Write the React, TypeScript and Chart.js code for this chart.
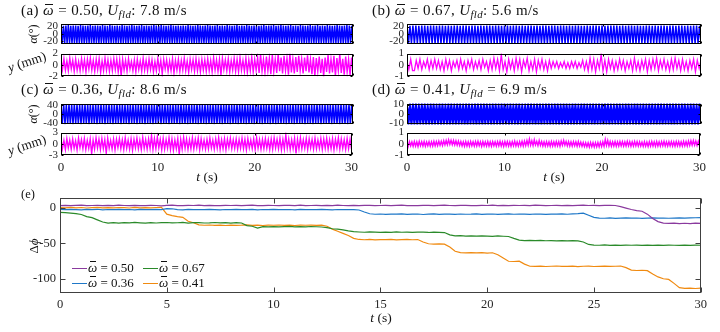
import React, { useEffect, useRef } from "react";
import { Chart, registerables } from "chart.js";
Chart.register(...registerables);

const FONT = "'Liberation Serif', 'DejaVu Serif', serif";

// ---------- shared axes ----------
const T_MIN = 0;
const T_MAX = 30;
const xTicksTop = [0, 10, 20, 30];
const xTicksE = [0, 5, 10, 15, 20, 25, 30];

// ---------- panel titles ----------
const panelLetters = ["a", "b", "c", "d"];
const panelOmega = ["0.50", "0.67", "0.36", "0.41"];
const panelU = ["7.8", "5.6", "8.6", "6.9"];
const panelSep = [":", ":", ":", " ="];

// ---------- (a) ----------
const alphaA = [
  23,-24,22,-25,23,-24,24,-24,22,-25,23,-24,23,-25,22,-24,24,-24,23,-25,
  22,-24,23,-24,24,-25,22,-24,23,-24,23,-25,22,-24,24,-24,23,-25,22,-24,
  24,-24,23,-25,22,-24,23,-24,22,-25,24,-24,23,-24,22,-25,23,-24,24,-24,
  23,-25,22,-24,23,-24,24,-25,22,-24,23,-24,22,-25,23,-24,24,-24,23,-25,
  22,-24,24,-24,23,-25,22,-24,23,-24,24,-25,23,-24,22,-24,23,-25,22,-24,
  23,-24,22,-25,24,-24,23,-24,22,-25,23,-24,24,-24,23,-25,22,-24,23,-24,
  24,-25,23,-24,22,-24,23,-25,24,-24,22,-24,23,-25,22,-24,24,-24,23,-25,
  22,-24,23,-24,24,-25,22,-24,23,-24,22,-25,24,-24,23,-24,22,-25,23,-24,
  23,-25,22,-24,23,-24,24,-24,22,-25,23,-24,23,-24,24,-25,22,-24,23,-24,
  24,-24,23,-25,22,-24,23,-24,24,-25,22,-24,23,-24,22,-25,24,-24,23,-24,
  22,-25,23,-24,24,-24,22,-24,23,-25,24,-24,22,-24,23,-25,22,-24,24,-24,
  23,-24,22,-25,23,-24,24,-24,23,-25,22,-24,23,-24,24,-25,23,-24,22,-24,
];
const yA = [
  0.9,-0.8,1.1,-0.9,0.7,-1.0,1.2,-0.7,0.8,-1.1,1.0,-0.9,0.6,-1.0,1.1,-0.8,0.9,-1.2,1.0,-0.7,
  1.2,-0.9,0.8,-1.1,1.0,-0.8,1.1,-1.3,0.7,-1.0,1.2,-0.9,0.9,-1.1,0.8,-1.0,1.1,-0.8,1.0,-1.2,
  0.9,-1.9,1.0,-0.9,0.8,-1.1,1.1,-0.7,0.6,-1.0,0.9,-1.2,1.0,-0.8,0.7,-1.1,1.2,-0.9,0.8,-1.0,
  1.0,-0.8,0.9,-1.2,0.6,-1.0,1.1,-0.9,0.8,-1.6,1.0,-0.7,0.9,-1.1,0.7,-1.0,1.1,-1.4,0.8,-0.9,
  1.0,-1.1,0.8,-0.9,1.2,-1.0,0.7,-1.3,1.0,-0.8,0.9,-1.1,1.1,-1.0,0.8,-1.2,1.0,-0.9,0.9,-1.1,
  1.1,-1.0,0.8,-1.2,1.3,-0.9,0.9,-1.1,1.0,-1.8,1.2,-0.8,0.9,-1.0,1.1,-1.2,0.8,-0.9,1.2,-1.1,
  1.0,-1.2,1.3,-0.9,0.8,-1.1,1.2,-1.3,0.9,-1.0,1.4,-1.2,1.0,-0.9,1.3,-1.4,1.9,-1.1,1.0,-1.3,
  1.5,-1.0,1.2,-1.6,1.8,-1.2,1.0,-1.4,1.9,-1.1,1.3,-1.5,1.6,-1.0,1.2,-1.7,2.0,-1.3,1.1,-1.5,
  1.4,-1.2,1.6,-1.0,1.1,-1.5,1.3,-1.1,1.7,-1.3,1.0,-1.6,1.4,-1.9,1.2,-1.1,1.5,-1.4,1.1,-2.0,
  1.3,-1.2,1.8,-1.5,1.0,-1.3,1.6,-1.9,1.2,-1.0,1.9,-1.4,1.1,-1.7,1.5,-1.2,1.0,-1.8,1.3,-1.1,
];

// ---------- (b) ----------
const alphaB = [
  23,-25,22,-25,23,-26,23,-25,22,-25,23,-25,23,-26,22,-25,23,-25,23,-25,
  22,-25,23,-26,23,-25,22,-25,23,-25,22,-26,23,-25,23,-25,22,-25,23,-26,
  23,-25,22,-25,23,-25,23,-26,22,-25,23,-25,22,-25,23,-26,23,-25,22,-25,
  23,-26,23,-25,22,-25,23,-25,23,-26,22,-25,23,-25,23,-25,22,-26,23,-25,
  22,-25,23,-25,23,-26,22,-25,23,-25,22,-25,23,-26,23,-25,22,-25,23,-25,
  23,-25,22,-26,23,-25,23,-25,22,-25,23,-26,22,-25,23,-25,23,-25,22,-26,
  22,-26,23,-25,22,-25,23,-25,23,-26,22,-25,23,-25,22,-25,23,-26,23,-25,
  23,-25,23,-25,22,-26,23,-25,22,-25,23,-25,23,-26,22,-25,23,-25,22,-25,
  22,-25,23,-26,23,-25,22,-25,23,-25,22,-26,23,-25,23,-25,22,-25,23,-26,
  23,-25,22,-25,23,-26,23,-25,22,-25,23,-25,22,-26,23,-25,23,-25,22,-25,
];
const yB = [
  0.3,-0.4,0.5,-0.5,-0.5,0.4,-0.3,0.5,-0.4,0.3,-0.2,0.5,-0.4,0.4,-0.3,0.5,-0.3,0.4,-0.4,0.3,
  -0.5,0.5,-0.3,0.4,-0.5,0.3,-0.2,0.4,-0.4,0.5,-0.3,0.3,-0.5,0.4,-0.2,0.5,-0.4,0.3,-0.3,0.4,
  -0.4,0.5,-0.2,0.3,-0.5,0.4,-0.4,0.6,-0.3,0.5,-0.5,0.9,-0.4,0.3,-0.6,0.5,-0.3,0.4,-0.5,0.6,
  -0.3,0.5,-0.6,0.4,-0.2,0.6,-0.5,0.3,-0.4,0.5,-0.6,0.4,-0.3,0.5,-0.4,0.3,-0.5,0.4,-0.3,0.3,
  -0.2,0.3,-0.3,0.2,-0.2,0.3,-0.3,0.2,-0.3,0.3,-0.2,0.3,-0.3,0.2,-0.2,0.4,-0.4,0.3,-0.5,0.6,
  -0.4,0.5,-0.6,0.4,-0.3,0.9,-0.5,0.4,-0.6,0.5,-0.3,0.4,-0.5,0.3,-0.4,0.5,-0.3,0.4,-0.5,0.3,
  -0.3,0.4,-0.5,0.6,-0.4,0.3,-0.5,0.4,-0.3,0.5,-0.6,0.4,-0.4,0.5,-0.3,0.6,-0.5,0.4,-0.3,0.5,
  -0.4,0.3,-0.5,0.5,-0.4,0.6,-0.3,0.4,-0.5,0.5,-0.4,0.3,-0.5,0.4,-0.3,0.5,-0.6,0.4,-0.3,0.4,
];

// ---------- (c) ----------
const alphaC = [
  43,-45,44,-46,42,-45,44,-45,43,-46,44,-45,42,-45,43,-46,44,-45,43,-45,
  44,-46,43,-45,42,-45,44,-46,43,-45,44,-45,42,-46,43,-45,44,-45,43,-46,
  42,-45,44,-45,43,-46,44,-45,42,-45,43,-46,44,-45,43,-45,42,-46,44,-45,
  43,-45,42,-46,44,-45,43,-45,44,-46,42,-45,43,-45,44,-46,43,-45,42,-45,
  44,-46,43,-45,42,-45,44,-45,43,-46,44,-45,42,-45,43,-46,44,-45,43,-45,
  43,-45,44,-46,43,-45,42,-45,44,-46,43,-45,44,-45,42,-46,43,-45,44,-45,
  42,-46,43,-45,44,-45,43,-46,42,-45,44,-45,43,-46,44,-45,42,-45,43,-46,
  44,-45,42,-45,43,-46,44,-45,43,-45,42,-46,44,-45,43,-45,44,-46,42,-45,
  43,-46,44,-45,42,-45,43,-45,44,-46,43,-45,42,-45,44,-46,43,-45,44,-45,
  42,-45,43,-46,44,-45,43,-45,42,-46,44,-45,43,-45,44,-46,42,-45,43,-45,
  44,-45,43,-46,42,-45,44,-45,43,-46,44,-45,42,-45,43,-46,44,-45,43,-45,
];
const yC = [
  1.2,-1.3,0.9,-1.5,1.4,-1.1,1.0,-1.4,1.3,-1.2,0.8,-1.6,1.5,-1.0,1.1,-1.3,1.4,-1.5,0.9,-1.2,
  1.3,-2.7,1.0,-1.4,1.6,-1.1,1.2,-1.5,1.4,-1.3,1.1,-2.5,1.5,-1.2,0.9,-1.4,1.3,-1.6,1.2,-1.0,
  1.4,-1.3,1.1,-1.5,1.6,-1.2,1.0,-1.4,1.3,-1.7,1.2,-1.1,1.5,-1.3,1.0,-1.5,1.7,-1.2,1.1,-1.4,
  1.3,-1.2,2.2,-1.5,1.4,-1.3,1.8,-1.1,1.2,-1.6,1.5,-1.4,1.1,-1.2,1.6,-1.5,1.3,-1.7,1.0,-1.3,
  1.4,-2.8,1.2,-1.4,1.7,-1.2,1.3,-1.5,1.1,-1.3,1.6,-1.4,1.2,-1.1,1.5,-1.6,1.3,-1.2,1.0,-1.4,
  1.2,-1.3,1.5,-1.1,1.0,-1.4,1.3,-1.2,1.6,-1.5,1.1,-1.3,1.4,-1.6,1.2,-1.0,1.5,-1.3,1.1,-1.2,
  1.3,-1.4,1.1,-1.2,1.5,-1.3,1.2,-1.6,1.4,-1.1,1.0,-1.3,1.3,-1.5,1.6,-1.2,1.1,-1.4,1.2,-1.3,
  1.4,-1.2,1.1,-1.5,1.3,-1.4,1.6,-1.1,1.2,-1.3,1.5,-1.6,1.2,-1.4,2.4,-1.2,1.3,-1.5,1.1,-1.3,
  1.5,-2.6,1.2,-1.4,1.6,-1.3,1.1,-1.2,1.4,-1.5,1.3,-1.1,1.2,-1.4,1.5,-1.3,1.0,-1.2,1.4,-1.5,
  1.3,-1.2,1.5,-1.4,1.1,-1.3,1.4,-1.6,1.2,-1.1,1.6,-1.4,1.3,-1.2,1.1,-1.5,1.4,-1.3,1.2,-1.4,
];

// ---------- (d) ----------
const alphaD = [
  7,-7,6,-8,7,-7,7,-8,6,-7,7,-7,7,-8,6,-7,7,-8,7,-7,
  6,-7,7,-8,7,-7,6,-7,7,-8,7,-7,6,-8,7,-7,7,-7,6,-8,
  7,-8,7,-7,6,-7,7,-8,7,-7,6,-8,7,-7,7,-7,6,-8,7,-7,
  7,-7,6,-8,7,-7,7,-7,6,-8,7,-7,6,-7,7,-8,7,-7,6,-7,
  6,-8,7,-7,7,-7,6,-8,7,-7,7,-8,6,-7,7,-7,7,-8,6,-7,
  7,-7,7,-8,6,-7,7,-7,7,-8,6,-7,7,-8,7,-7,6,-7,7,-8,
  7,-8,6,-7,7,-7,7,-8,6,-7,7,-7,6,-8,7,-7,7,-8,6,-7,
  6,-7,7,-7,7,-8,6,-7,7,-8,7,-7,6,-7,7,-8,7,-7,6,-8,
  7,-7,6,-8,7,-7,7,-7,6,-8,7,-7,7,-8,6,-7,7,-7,7,-8,
  7,-8,7,-7,6,-7,7,-8,7,-7,6,-7,7,-8,7,-7,6,-8,7,-7,
];
const yD = [
  0.18,-0.22,0.2,-0.18,0.16,-0.22,0.2,-0.2,0.18,-0.24,0.22,-0.18,0.18,-0.2,0.21,-0.22,0.16,-0.18,0.2,-0.21,0.18,-0.2,0.22,-0.18,
  0.2,-0.17,0.24,-0.14,0.23,-0.15,0.28,-0.1,0.3,-0.08,0.36,-0.05,0.32,-0.08,0.3,-0.1,0.27,-0.12,0.24,-0.15,0.2,-0.19,0.18,-0.22,
  0.2,-0.2,0.18,-0.22,0.21,-0.18,0.18,-0.21,0.2,-0.2,0.22,-0.18,0.18,-0.23,0.2,-0.19,0.18,-0.21,0.21,-0.2,0.18,-0.22,0.2,-0.18,
  0.18,-0.21,0.2,-0.18,0.22,-0.2,0.18,-0.23,0.21,-0.18,0.2,-0.2,0.18,-0.22,0.2,-0.18,0.24,-0.2,0.18,-0.21,0.2,-0.18,0.22,-0.2,
  0.24,-0.17,0.3,-0.14,0.42,-0.12,0.28,-0.16,0.36,-0.1,0.22,-0.17,0.3,-0.14,0.2,-0.2,0.18,-0.21,0.2,-0.19,0.18,-0.22,0.2,-0.2,
  0.18,-0.2,0.21,-0.18,0.2,-0.22,0.25,-0.14,0.3,-0.12,0.22,-0.18,0.2,-0.2,0.18,-0.21,0.2,-0.18,0.18,-0.22,0.2,-0.2,0.15,-0.23,
  0.12,-0.25,0.1,-0.27,0.09,-0.3,0.12,-0.27,0.1,-0.3,0.11,-0.28,0.12,-0.27,0.15,-0.25,0.18,-0.23,0.38,-0.16,0.3,-0.2,0.2,-0.22,
  0.18,-0.2,0.2,-0.22,0.18,-0.2,0.21,-0.18,0.2,-0.21,0.18,-0.2,0.22,-0.18,0.2,-0.22,0.18,-0.2,0.21,-0.19,0.2,-0.21,0.18,-0.2,
  0.15,-0.23,0.18,-0.22,0.15,-0.24,0.18,-0.21,0.2,-0.2,0.18,-0.22,0.2,-0.2,0.18,-0.21,0.2,-0.18,0.22,-0.2,0.18,-0.21,0.2,-0.19,
  0.2,-0.2,0.18,-0.22,0.21,-0.18,0.2,-0.2,0.18,-0.21,0.22,-0.18,0.2,-0.2,0.24,-0.15,0.27,-0.13,0.3,-0.12,0.25,-0.15,0.22,-0.18,
];

// ---------- (e) phase drift, samples every 0.25 s from 0 to 30 s ----------
const phase050 = [
  3.0,3.3,2.8,3.2,3.5,2.9,3.1,3.4,2.8,3.2,
  3.0,3.6,3.1,2.8,3.3,3.0,2.9,3.4,3.1,2.7,
  3.2,3.5,3.0,2.8,3.3,3.1,3.6,2.9,3.2,3.0,
  2.8,3.4,3.1,3.3,2.9,3.2,3.5,3.0,2.8,3.3,
  3.1,2.9,3.4,3.2,3.0,3.6,2.9,3.1,3.3,2.8,
  3.2,3.0,3.5,3.1,2.9,3.3,3.0,3.4,3.2,2.8,
  3.1,3.3,2.9,3.2,3.5,3.0,3.1,2.8,3.4,3.2,
  3.0,3.3,3.6,3.1,2.9,3.2,3.4,3.0,2.8,3.3,
  3.1,3.5,3.0,3.2,2.9,3.4,3.1,3.3,3.0,3.6,
  3.2,2.9,3.1,3.4,3.0,3.3,2.8,3.2,3.5,3.1,
  3.3,3.0,3.2,3.4,3.1,
  1.5,-0.5,-2.5,-4,-5,-9,-15,-19.5,-21.5,
  -22,-21.6,-22.3,-21.8,-22.2,-21.7,-22,
];
const phase036 = [
  -2.5,-2.8,-2.3,-2.6,-3.0,-2.4,-2.7,-2.2,-2.9,-2.5,
  -2.6,-2.3,-2.8,-2.5,-2.9,-2.4,-2.6,-2.7,-2.3,-2.8,
  -1.2,-1.5,-2.6,-2.9,-2.4,-2.7,-2.5,-2.8,-2.3,-2.6,
  -2.9,-2.5,-2.7,-2.4,-2.8,-2.6,-2.3,-2.9,-2.5,-2.7,
  -2.4,-2.8,-2.6,-2.5,-2.9,-2.3,-2.7,-2.5,-2.8,-2.4,
  -2.6,-2.9,-2.5,-2.7,-2.8,-2.6,
  -3.2,-6,-8.5,
  -9.2,-8.8,-9.4,-8.9,-9.1,-8.6,-9.3,-9.0,-8.8,-9.5,
  -9.0,-8.7,-9.3,-9.1,-8.9,-9.4,-8.8,-9.2,-9.0,-8.6,
  -9.3,-9.0,-8.8,-9.4,-9.1,-8.7,-9.2,-9.0,-8.9,-9.3,
  -8.8,-9.1,-9.4,-8.9,-9.0,-8.7,-9.2,-8.6,-8.3,
  -7.6,-10.5,-13.5,-14.6,
  -14.8,-14.3,-14.9,-14.5,-14.2,-14.7,-14.4,-14.9,-14.6,-14.3,
  -14.7,-14.4,-14.8,-14.5,-14.2,-14.6,-14.3,-14.1,-14.0,
];
const phase067 = [
  -6.5,-7.0,-7.5,-8.2,-9.5,-12.5,-14.0,-17.0,-20.0,-21.5,
  -21.0,-21.6,-20.8,-21.3,-20.6,-21.2,-21.7,-20.9,-21.4,-21.0,
  -20.7,-21.3,-21.1,-20.6,-21.5,-21.0,-20.8,-21.4,-21.2,-20.7,
  -21.3,-21.0,-21.5,-20.9,-21.4,
  -25.0,-26.0,-28.5,-26.5,-26.8,
  -26.4,-26.9,-26.6,-26.2,-26.8,-26.5,-26.9,-26.3,-26.7,-27.0,
  -28.0,-29.5,-30.0,-31.0,-32.5,-33.5,
  -34.0,-34.4,-33.9,-34.3,-34.6,-34.1,-34.5,-34.0,-34.4,-34.2,
  -34.6,-34.1,-34.3,-34.7,-34.2,-34.5,-34.8,
  -38.0,-39.5,-39.2,-39.7,-39.4,-39.9,-39.5,
  -39.8,-40.1,-39.6,-40.0,-40.3,
  -43.0,-45.5,-46.0,-45.7,-46.2,
  -45.9,-46.3,-46.0,-46.4,-46.1,-46.5,-46.2,-46.6,
  -48.0,-51.5,-52.3,
  -52.6,-52.2,-52.7,-52.4,-52.8,-52.3,-52.6,-52.5,-52.9,-52.4,
  -52.7,-52.5,-52.8,-52.3,-52.6,-52.9,-52.5,-52.7,-52.4,-52.6,
];
const phase041 = [
  0.2,-0.3,0.4,-0.1,0.3,-0.4,0.1,0.5,-0.2,0.2,
  -0.3,0.3,0.0,-0.4,0.4,-0.1,0.2,-0.3,0.3,0.5,
  -9.0,-11.0,-12.5,-13.5,-19.0,-21.0,-24.0,
  -24.6,-24.2,-24.8,-24.4,-24.9,-24.3,-24.7,-24.5,-24.1,-24.8,
  -24.4,-24.9,-24.3,-24.6,-24.2,-24.7,-24.5,-24.9,-24.3,-24.6,
  -24.4,-24.8,-24.5,
  -26.0,-30.0,-33.0,-36.0,-39.0,-43.0,-44.5,
  -44.9,-44.5,-45.0,-44.6,-44.8,-44.4,-45.1,-44.7,-44.5,-44.9,-44.6,
  -48.0,-50.5,-50.9,-50.6,-51.0,
  -55.0,-61.0,-63.0,-63.4,-62.9,-63.3,-62.8,-63.5,-63.1,
  -66.0,-70.5,-75.0,-75.4,-74.9,
  -79.0,-82.0,-82.3,-81.8,-82.4,-82.0,-81.7,-82.3,-82.1,-81.9,-82.5,-82.0,-81.8,-82.4,-82.1,-81.9,-82.3,-82.0,-81.7,
  -84.0,-87.5,-88.0,-87.6,-88.2,
  -93.0,-97.0,-99.5,-100.5,-106.0,-112.0,
  -113.0,-112.6,-113.2,-112.8,
];
const legendLabels = ["0.50", "0.67", "0.36", "0.41"];

const C_ALPHA = "#0000ff";
const C_Y = "#ff00ff";
const C050 = "#8a3a9e";
const C067 = "#2a8a2a";
const C036 = "#1f78c8";
const C041 = "#f08a10";
const legendColors = [C050, C067, C036, C041];

type Series = { data: number[]; color: string; width: number };
type Spec = {
  key: string;
  L: number; T: number; W: number; H: number;
  series: Series[];
  yMin: number; yMax: number; yTicks: number[];
  xTicks: number[];
  showX: boolean;
  yw: number; xh: number;
  yFont: number; xFont: number; yPad: number; xPad: number;
  frameColor: string; tickLen: number;
};

const PT = 9, PR = 10, PB = 9;

const framePlugin = {
  id: "frame",
  afterDatasetsDraw(chart: any, _args: any, opts: any) {
    const { ctx, chartArea: a } = chart;
    const xs = chart.scales.x, ys = chart.scales.y;
    const l = Math.round(a.left) + 0.5, r = Math.round(a.right) - 0.5;
    const t = Math.round(a.top) + 0.5, b = Math.round(a.bottom) - 0.5;
    ctx.save();
    ctx.strokeStyle = opts.color;
    ctx.lineWidth = 1;
    ctx.beginPath();
    for (const v of opts.xTicks) {
      const px = Math.round(xs.getPixelForValue(v)) + 0.5;
      ctx.moveTo(px, b); ctx.lineTo(px, b - opts.len);
      ctx.moveTo(px, t); ctx.lineTo(px, t + opts.len);
    }
    for (const v of opts.yTicks) {
      const py = Math.round(ys.getPixelForValue(v)) + 0.5;
      ctx.moveTo(l, py); ctx.lineTo(l + opts.len, py);
      ctx.moveTo(r, py); ctx.lineTo(r - opts.len, py);
    }
    ctx.stroke();
    ctx.strokeRect(l, t, r - l, b - t);
    ctx.restore();
  },
};

function toPoints(data: number[]) {
  const n = data.length;
  return data.map((v, i) => ({ x: T_MIN + (i * (T_MAX - T_MIN)) / (n - 1), y: v }));
}

function canvasBox(s: Spec) {
  return {
    left: s.L - s.yw,
    top: s.T - PT,
    width: s.W + s.yw + PR,
    height: PT + s.H + (s.showX ? s.xh : PB),
  };
}

function Plot({ s }: { s: Spec }) {
  const ref = useRef<HTMLCanvasElement>(null);
  useEffect(() => {
    const chart = new Chart(ref.current as HTMLCanvasElement, {
      type: "line",
      data: {
        datasets: s.series.map((se) => ({
          data: toPoints(se.data),
          borderColor: se.color,
          borderWidth: se.width,
          pointRadius: 0,
          tension: 0,
          fill: false,
        })),
      },
      options: {
        animation: false,
        responsive: false,
        events: [],
        layout: { padding: { left: 0, top: PT, right: PR, bottom: s.showX ? 0 : PB } },
        plugins: {
          legend: { display: false },
          tooltip: { enabled: false },
          frame: { color: s.frameColor, len: s.tickLen, xTicks: s.xTicks, yTicks: s.yTicks },
        } as any,
        scales: {
          x: {
            type: "linear",
            min: T_MIN,
            max: T_MAX,
            display: s.showX,
            afterBuildTicks: (sc: any) => { sc.ticks = s.xTicks.map((v) => ({ value: v })); },
            afterFit: (sc: any) => { sc.height = s.showX ? s.xh : 0; },
            grid: { display: false, drawTicks: false },
            border: { display: false },
            ticks: {
              font: { family: FONT, size: s.xFont },
              color: "#262626",
              padding: s.xPad,
              maxRotation: 0,
              autoSkip: false,
              callback: (v: any) => String(v),
            },
          },
          y: {
            type: "linear",
            min: s.yMin,
            max: s.yMax,
            afterBuildTicks: (sc: any) => { sc.ticks = s.yTicks.map((v) => ({ value: v })); },
            afterFit: (sc: any) => { sc.width = s.yw; },
            grid: { display: false, drawTicks: false },
            border: { display: false },
            ticks: {
              font: { family: FONT, size: s.yFont },
              color: "#262626",
              padding: s.yPad,
              autoSkip: false,
              callback: (v: any) => String(v),
            },
          },
        },
      } as any,
      plugins: [framePlugin as any],
    });
    return () => chart.destroy();
  }, []);
  const b = canvasBox(s);
  return (
    <canvas
      ref={ref}
      width={b.width}
      height={b.height}
      style={{ position: "absolute", left: b.left, top: b.top, width: b.width, height: b.height }}
    />
  );
}

function sub(key: string, L: number, T: number, W: number, H: number, data: number[], color: string,
  yMin: number, yMax: number, yTicks: number[], showX: boolean, width = 1): Spec {
  return {
    key, L, T, W, H, series: [{ data, color, width }], yMin, yMax, yTicks,
    xTicks: xTicksTop, showX, yw: 40, xh: 26, yFont: 11, xFont: 13, yPad: 3, xPad: 5,
    frameColor: "#000", tickLen: 2,
  };
}

const LX = 61, RX = 407;
const WL = 292, WR = 294;

const specs: Spec[] = [
  sub("aA", LX, 23, WL, 22, alphaA, C_ALPHA, -28, 28, [-20, 0, 20], false, 1.5),
  sub("aY", LX, 53, WL, 24, yA, C_Y, -2, 2, [-2, 0, 2], false, 1.4),
  sub("bA", RX, 23, WR, 22, alphaB, C_ALPHA, -28, 28, [-20, 0, 20], false, 1.5),
  sub("bY", RX, 53, WR, 24, yB, C_Y, -1, 1, [-1, 0, 1], false, 1.3),
  sub("cA", LX, 103, WL, 22, alphaC, C_ALPHA, -47, 47, [-40, 0, 40], false, 1.5),
  sub("cY", LX, 132, WL, 23, yC, C_Y, -3, 3, [-3, 0, 3], true, 1.4),
  sub("dA", RX, 103, WR, 22, alphaD, C_ALPHA, -11, 11, [-10, 0, 10], false, 2.6),
  sub("dY", RX, 132, WR, 23, yD, C_Y, -1, 1, [-1, 0, 1], true, 1.4),
  {
    key: "e", L: 60, T: 195, W: 641, H: 98,
    series: [
      { data: phase050, color: C050, width: 1.2 },
      { data: phase036, color: C036, width: 1.2 },
      { data: phase067, color: C067, width: 1.2 },
      { data: phase041, color: C041, width: 1.2 },
    ],
    yMin: -119.5, yMax: 14.3, yTicks: [-100, -50, 0], xTicks: xTicksE, showX: true,
    yw: 50, xh: 24, yFont: 12.5, xFont: 12.5, yPad: 4, xPad: 4,
    frameColor: "#404040", tickLen: 5,
  },
];

function Omega() {
  return (
    <span style={{ position: "relative", fontStyle: "italic" }}>
      ω
      <span style={{ position: "absolute", left: "0.15em", right: "0.08em", top: "0.1em", borderTop: "1px solid currentColor" }} />
    </span>
  );
}

const titlePos = [
  { x: 21, y: 3 },
  { x: 372, y: 3 },
  { x: 21, y: 82 },
  { x: 372, y: 82 },
];

function Title({ i }: { i: number }) {
  const p = titlePos[i];
  return (
    <div style={{ position: "absolute", left: p.x, top: p.y, fontFamily: FONT, fontSize: 15, letterSpacing: "0.4px", lineHeight: 1, whiteSpace: "nowrap", color: "#111" }}>
      ({panelLetters[i]}) <Omega /> = {panelOmega[i]}, <i>U</i>
      <span style={{ fontSize: "0.72em", fontStyle: "italic", position: "relative", top: "0.3em" }}>fld</span>
      {panelSep[i]} {panelU[i]} m/s
    </div>
  );
}

function Label({ x, y, rot, size, children }: { x: number; y: number; rot: number; size: number; children: any }) {
  return (
    <div style={{
      position: "absolute", left: x, top: y, fontFamily: FONT, fontSize: size, lineHeight: 1,
      whiteSpace: "nowrap", color: "#111", transform: `translate(-50%, -50%) rotate(${rot}deg)`,
    }}>{children}</div>
  );
}

const legendPos = [
  { x: 72, y: 268 },
  { x: 143, y: 268 },
  { x: 72, y: 283 },
  { x: 143, y: 283 },
];

export default function App() {
  return (
    <div style={{ position: "fixed", left: 0, top: 0, width: 720, height: 332, background: "#fff", overflow: "hidden" }}>
      {specs.map((s) => <Plot key={s.key} s={s} />)}
      {[0, 1, 2, 3].map((i) => <Title key={i} i={i} />)}
      <Label x={32.5} y={34} rot={-90} size={12}><i>α</i>(°)</Label>
      <Label x={32.5} y={114} rot={-90} size={12}><i>α</i>(°)</Label>
      <Label x={27} y={62} rot={-18} size={13.5}><i>y</i> (mm)</Label>
      <Label x={27} y={145} rot={-18} size={13.5}><i>y</i> (mm)</Label>
      <Label x={207} y={177} rot={0} size={13.5}><i>t</i> (s)</Label>
      <Label x={554} y={177} rot={0} size={13.5}><i>t</i> (s)</Label>
      <Label x={381} y={318} rot={0} size={13.5}><i>t</i> (s)</Label>
      <Label x={33} y={246} rot={-90} size={13}>Δ<i>ϕ</i></Label>
      <div style={{ position: "absolute", left: 21, top: 188, fontFamily: FONT, fontSize: 12.5, lineHeight: 1, color: "#111" }}>(e)</div>
      {legendLabels.map((lab, i) => (
        <div key={lab} style={{
          position: "absolute", left: legendPos[i].x, top: legendPos[i].y - 7, height: 14,
          display: "flex", alignItems: "center", fontFamily: FONT, fontSize: 13, color: "#111", whiteSpace: "nowrap",
        }}>
          <span style={{ display: "inline-block", width: 15, borderTop: `1.6px solid ${legendColors[i]}`, marginRight: 1 }} />
          <span><Omega /> = {lab}</span>
        </div>
      ))}
    </div>
  );
}
